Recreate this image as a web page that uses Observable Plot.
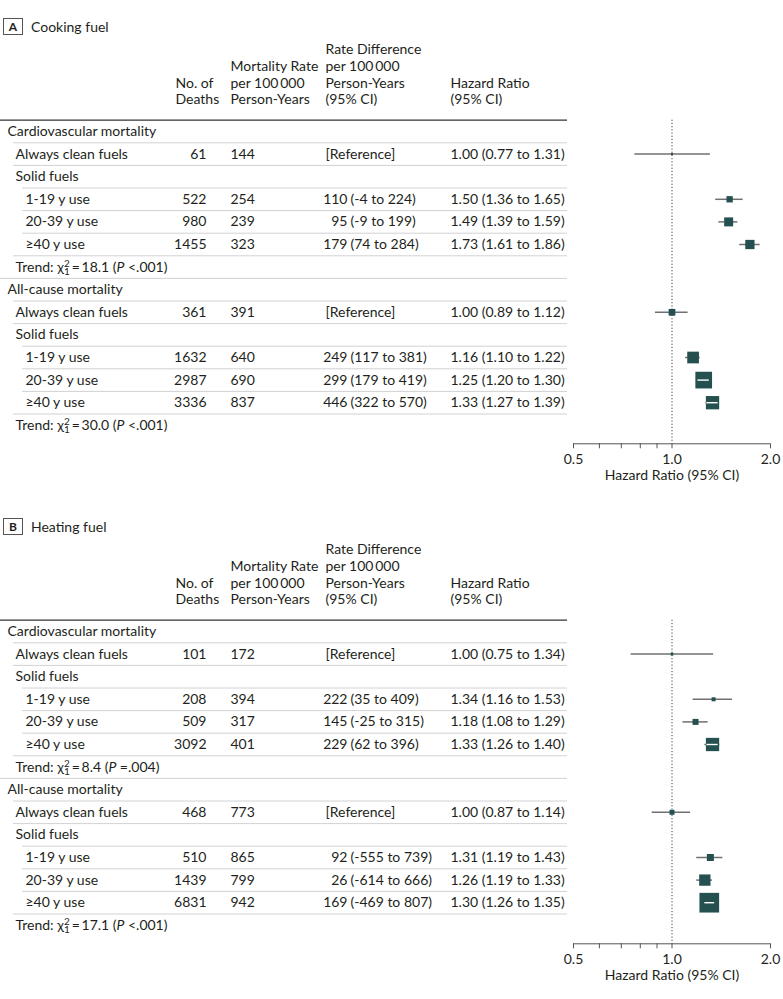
<!DOCTYPE html>
<html><head><meta charset="utf-8">
<script src="https://cdn.jsdelivr.net/npm/d3@7"></script>
<script src="https://cdn.jsdelivr.net/npm/@observablehq/plot@0.6"></script>
<style>
body{margin:0;background:#fff;font-family:Lato,sans-serif;color:#231f20}
.panel{position:relative;width:783px;height:500px}
.ptitle{position:absolute;left:3px;top:18px;height:17px;display:flex;align-items:center;font-size:14px;z-index:2}
.pbox{box-sizing:border-box;width:20px;height:17px;border:1px solid #555;display:flex;align-items:center;justify-content:center;font-weight:bold;font-size:12px;margin-right:8px}
.plots{position:absolute;left:0;top:0;display:flex}
</style></head><body>
<div id="root"></div>
<script>
// ---------- data ----------
const rowLabels = ["Cardiovascular mortality","Always clean fuels","Solid fuels","1-19 y use","20-39 y use","≥40 y use","Trend",
                   "All-cause mortality","Always clean fuels","Solid fuels","1-19 y use","20-39 y use","≥40 y use","Trend"];
const rowLevels = [0,1,1,2,2,2,1,0,1,1,2,2,2,1];
const estimateRows = [1,3,4,5,8,10,11,12];
const trendRows = [6,13];

// A: cooking fuel
const cookDeaths = [61,522,980,1455,361,1632,2987,3336];
const cookRate = [144,254,239,323,391,640,690,837];
const cookRd = [null,110,95,179,null,249,299,446];
const cookRdLo = [null,-4,-9,74,null,117,179,322];
const cookRdHi = [null,224,199,284,null,381,419,570];
const cookHr = [1.00,1.50,1.49,1.73,1.00,1.16,1.25,1.33];
const cookHrLo = [0.77,1.36,1.39,1.61,0.89,1.10,1.20,1.27];
const cookHrHi = [1.31,1.65,1.59,1.86,1.12,1.22,1.30,1.39];
const cookWeight = [4,40,81,86,45,137,279,177];
const cookTrendChi = ["18.1","30.0"];
const cookTrendP = ["<.001","<.001"];

// B: heating fuel
const heatDeaths = [101,208,509,3092,468,510,1439,6831];
const heatRate = [172,394,317,401,773,865,799,942];
const heatRd = [null,222,145,229,null,92,26,169];
const heatRdLo = [null,35,-25,62,null,-555,-614,-469];
const heatRdHi = [null,409,315,396,null,739,666,807];
const heatHr = [1.00,1.34,1.18,1.33,1.00,1.31,1.26,1.30];
const heatHrLo = [0.75,1.16,1.08,1.26,0.87,1.19,1.19,1.26];
const heatHrHi = [1.34,1.53,1.29,1.40,1.14,1.43,1.33,1.35];
const heatWeight = [7,16,36,177,25,49,128,388];
const heatTrendChi = ["8.4","17.1"];
const heatTrendP = ["=.004","<.001"];

const headerTexts = ["No. of\nDeaths","Mortality Rate\nper 100\u2009000\nPerson-Years","Rate Difference\nper 100\u2009000\nPerson-Years\n(95% CI)","Hazard Ratio\n(95% CI)"];
const headerCols = ["deathsHead","rate","rd","hr"];
const axisTicks = [0.5,0.6,0.7,0.8,0.9,1,2];
const axisLabelTicks = [0.5,1,2];
const axisTitle = "Hazard Ratio (95% CI)";

// ---------- layout / style ----------
const H = 500, TABLE_W = 570, FOREST_W = 213, F_ML = 3, F_MR = 13;
const ROW_H = 22.6, FIRST_ROW = 131, AXIS_GAP = 18.5;
const nRows = rowLabels.length;
const yMax = nRows - 1 + AXIS_GAP / ROW_H;
const marginTop = FIRST_ROW - 0.5 * ROW_H;
const marginBottom = H - (FIRST_ROW + (nRows - 1) * ROW_H + AXIS_GAP);
const yScale = {domain:[-0.5,yMax], range:[marginTop, H - marginBottom], axis:null};
const COL = {indent:[7,15,25], ruleStart:[0,13,22], ruleEnd:567, deathsHead:175, deaths:206, rate:230, rd:325, rdEst:347, rdCI:350, hr:450};
const TEXT = "#231f20", TEAL = "#24504f", CI_GRAY = "#707070", AXIS_GRAY = "#555", SEP = "#d2d2d2";
const W_MAX = 400, MAX_SIDE = 20;
const FS = 14;
const baseStyle = {fontFamily:"Lato, sans-serif", fontSize:"14px", background:"transparent", overflow:"visible", color:TEXT};

function styleTrend(svg){
  d3.select(svg).selectAll("text").each(function(){
    const m = this.textContent.match(/^Trend: χ²₁ = ([\d.]+) \(P ([<=][\d.]+)\)$/);
    if(!m) return;
    const s = d3.select(this).text(null);
    s.append("tspan").text("Trend: χ");
    s.append("tspan").attr("font-size",10).attr("dy",-5).text("2");
    s.append("tspan").attr("font-size",10).attr("dx",-5.6).attr("dy",8).text("1");
    s.append("tspan").attr("dy",-3).text(`\u2009=\u2009${m[1]} (`);
    s.append("tspan").attr("font-style","italic").text("P");
    s.append("tspan").text(` ${m[2]})`);
  });
}

function buildPanel(letter, title, d){
  const est = estimateRows.map((row,k)=>({row, deaths:d.deaths[k], rate:d.rate[k], rd:d.rd[k], rdLo:d.rdLo[k], rdHi:d.rdHi[k],
    hr:d.hr[k], lo:d.lo[k], hi:d.hi[k], w:d.w[k]}));
  const rows = rowLabels.map((label,i)=>{
    const t = trendRows.indexOf(i);
    return {i, level:rowLevels[i], text: t>=0 ? `Trend: χ²₁ = ${d.chi[t]} (P ${d.p[t]})` : label};
  });
  const seps = rows.slice(1).map(r=>({y:r.i-0.5, x1:COL.ruleStart[r.level]}));
  const headers = headerTexts.map((text,k)=>({text, col:headerCols[k]}));

  const table = Plot.plot({
    width:TABLE_W, height:H, marginTop, marginBottom, marginLeft:0, marginRight:0,
    x:{type:"identity", axis:null}, y:yScale,
    style:baseStyle,
    marks:[
      Plot.ruleY(seps,{y:"y", x1:"x1", x2:COL.ruleEnd, stroke:SEP, strokeWidth:1}),
      Plot.ruleY([-0.5],{x1:0, x2:COL.ruleEnd, stroke:"#333", strokeWidth:1.3}),
      Plot.text(headers,{x:h=>COL[h.col], y:-0.5, text:"text", textAnchor:"start", lineAnchor:"bottom", lineHeight:1.19, dy:-16, fontSize:FS, fill:TEXT}),
      Plot.text(rows,{x:r=>COL.indent[r.level], y:"i", text:"text", textAnchor:"start", fontSize:FS, fill:TEXT}),
      Plot.text(est,{x:COL.deaths, y:"row", text:e=>String(e.deaths), textAnchor:"end", fontSize:FS, fill:TEXT}),
      Plot.text(est,{x:COL.rate, y:"row", text:e=>String(e.rate), textAnchor:"start", fontSize:FS, fill:TEXT}),
      Plot.text(est.filter(e=>e.rd==null),{x:COL.rd, y:"row", text:()=>"[Reference]", textAnchor:"start", fontSize:FS, fill:TEXT}),
      Plot.text(est.filter(e=>e.rd!=null),{x:COL.rdEst, y:"row", text:e=>String(e.rd), textAnchor:"end", fontSize:FS, fill:TEXT}),
      Plot.text(est.filter(e=>e.rd!=null),{x:COL.rdCI, y:"row", text:e=>`(${e.rdLo} to ${e.rdHi})`, textAnchor:"start", fontSize:FS, fill:TEXT}),
      Plot.text(est,{x:COL.hr, y:"row", text:e=>`${e.hr.toFixed(2)} (${e.lo.toFixed(2)} to ${e.hi.toFixed(2)})`, textAnchor:"start", fontSize:FS, fill:TEXT})
    ]
  });
  styleTrend(table);

  // white in-box CI segment when the CI fits inside the box
  const pxPerLn = (FOREST_W - F_ML - F_MR) / Math.log(2/0.5);
  const white = est.map(e=>{
    const side = MAX_SIDE*Math.sqrt(e.w/W_MAX);
    const ciPx = Math.log(e.hi/e.lo)*pxPerLn;
    if(ciPx > side*1.15) return null;
    const half = (side/2 - 1)/pxPerLn;
    return {row:e.row, a:Math.max(e.lo, e.hr*Math.exp(-half)), b:Math.min(e.hi, e.hr*Math.exp(half))};
  }).filter(Boolean);

  const forest = Plot.plot({
    width:FOREST_W, height:H, marginTop, marginBottom, marginLeft:F_ML, marginRight:F_MR,
    x:{type:"log", domain:[0.5,2]},
    y:yScale,
    r:{type:"sqrt", domain:[0,W_MAX], range:[0, MAX_SIDE/Math.sqrt(Math.PI)]},
    style:baseStyle,
    marks:[
      Plot.ruleX([1],{y1:-0.5, y2:yMax, stroke:"#444", strokeDasharray:"1.2,2"}),
      Plot.ruleY(est,{y:"row", x1:"lo", x2:"hi", stroke:CI_GRAY, strokeWidth:1.5}),
      Plot.dot(est,{x:"hr", y:"row", r:"w", symbol:"square", fill:TEAL}),
      Plot.ruleY(white,{y:"row", x1:"a", x2:"b", stroke:"white", strokeWidth:1.4}),
      Plot.ruleY([yMax],{stroke:AXIS_GRAY}),
      Plot.axisX({ticks:axisTicks, tickFormat:v=>axisLabelTicks.includes(v)?v.toFixed(1):"", tickSize:5, tickPadding:5, label:null, fontSize:FS, stroke:AXIS_GRAY, fill:TEXT}),
      Plot.text([axisTitle],{frameAnchor:"bottom", dy:36, fontSize:FS, fill:TEXT})
    ]
  });

  const panel = document.createElement("div"); panel.className = "panel";
  const t = document.createElement("div"); t.className = "ptitle";
  t.innerHTML = `<span class="pbox">${letter}</span><span>${title}</span>`;
  const plots = document.createElement("div"); plots.className = "plots";
  plots.append(table, forest);
  panel.append(plots, t);
  return panel;
}

const root = document.getElementById("root");
root.append(
  buildPanel("A","Cooking fuel",{deaths:cookDeaths, rate:cookRate, rd:cookRd, rdLo:cookRdLo, rdHi:cookRdHi, hr:cookHr, lo:cookHrLo, hi:cookHrHi, w:cookWeight, chi:cookTrendChi, p:cookTrendP}),
  buildPanel("B","Heating fuel",{deaths:heatDeaths, rate:heatRate, rd:heatRd, rdLo:heatRdLo, rdHi:heatRdHi, hr:heatHr, lo:heatHrLo, hi:heatHrHi, w:heatWeight, chi:heatTrendChi, p:heatTrendP})
);
</script>
</body></html>
